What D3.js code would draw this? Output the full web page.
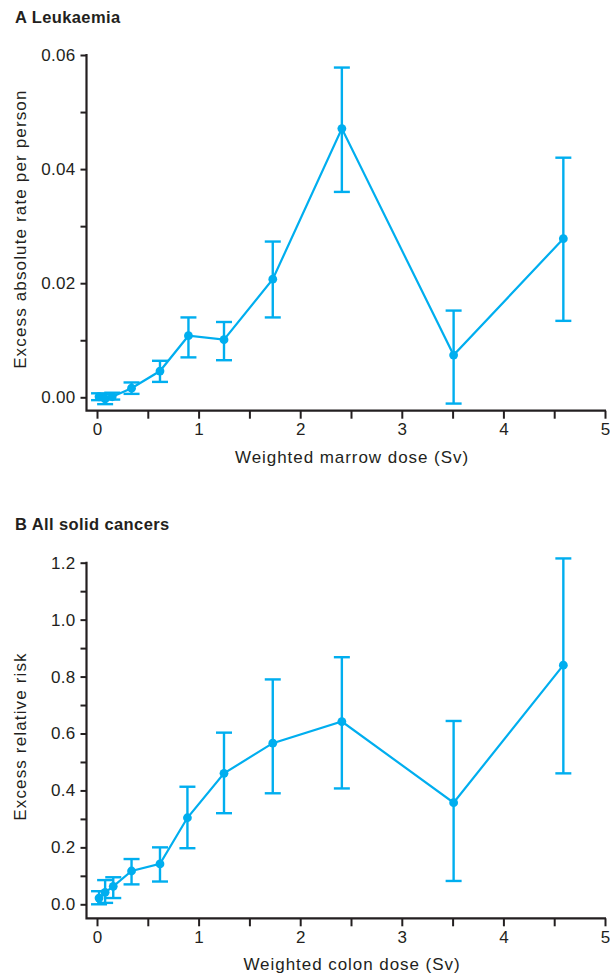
<!DOCTYPE html>
<html><head><meta charset="utf-8">
<script src="https://cdn.jsdelivr.net/npm/d3@7"></script>
<style>body{margin:0;background:#fff}svg{display:block}text{font-family:"Liberation Sans",Arial,Helvetica,sans-serif;fill:#231f20}</style>
</head><body><svg id="c" width="610" height="973"></svg>
<script>
// Panel A: Leukaemia
const doseA = [0.02, 0.08, 0.15, 0.34, 0.62, 0.90, 1.25, 1.73, 2.41, 3.51, 4.59];
const valA  = [0.0001, -0.0003, 0.0001, 0.0016, 0.0046, 0.0108, 0.0101, 0.0207, 0.0471, 0.0074, 0.0278];
const loA   = [-0.0005, -0.0012, -0.0004, 0.0006, 0.0027, 0.0070, 0.0065, 0.0140, 0.0360, -0.0011, 0.0134];
const hiA   = [0.0007, 0.0005, 0.0008, 0.0026, 0.0064, 0.0140, 0.0132, 0.0273, 0.0578, 0.0152, 0.0420];
const yTicksA = [0, 0.01, 0.02, 0.03, 0.04, 0.05, 0.06];
const yLabelsA = ["0.00", "", "0.02", "", "0.04", "", "0.06"];
// Panel B: All solid cancers
const doseB = [0.02, 0.08, 0.16, 0.34, 0.62, 0.89, 1.25, 1.73, 2.41, 3.51, 4.59];
const valB  = [0.022, 0.042, 0.063, 0.117, 0.142, 0.304, 0.460, 0.566, 0.642, 0.357, 0.840];
const loB   = [0.000, 0.005, 0.022, 0.070, 0.080, 0.197, 0.320, 0.390, 0.407, 0.082, 0.460];
const hiB   = [0.046, 0.085, 0.095, 0.159, 0.200, 0.413, 0.603, 0.790, 0.868, 0.644, 1.215];
const yTicksB = [0, 0.1, 0.2, 0.3, 0.4, 0.5, 0.6, 0.7, 0.8, 0.9, 1.0, 1.1, 1.2];
const yLabelsB = ["0.0", "", "0.2", "", "0.4", "", "0.6", "", "0.8", "", "1.0", "", "1.2"];
const xTicks = [0, 0.5, 1, 1.5, 2, 2.5, 3, 3.5, 4, 4.5, 5];
const xLabels = ["0", "", "1", "", "2", "", "3", "", "4", "", "5"];

const svg = d3.select("#c");
const BLUE = "#00aeef", DARK = "#231f20";

function panel(o) {
  const g = svg.append("g");
  const x = d3.scaleLinear().domain([0, 5]).range([97, 605]);
  const y = d3.scaleLinear().domain(o.ydom).range([o.y0, o.ytop]);
  const axisY = o.axisY, axisX = 86.5;
  // title
  g.append("text").attr("x", 15).attr("y", o.titleY).attr("font-size", 16.5).attr("font-weight", "bold")
    .attr("letter-spacing", 0.4).text(o.title);
  // x axis
  const xa = g.append("g").attr("transform", `translate(0,${axisY})`)
    .call(d3.axisBottom(x).tickValues(xTicks).tickSize(8).tickSizeOuter(0).tickPadding(4.5).tickFormat((d, i) => xLabels[i]));
  xa.select(".domain").remove();
  xa.selectAll(".tick line").attr("stroke", DARK).attr("stroke-width", 2);
  xa.selectAll(".tick text").attr("font-size", 17).attr("fill", DARK).attr("font-family", "Liberation Sans, Arial, sans-serif");
  // y axis
  const ya = g.append("g").attr("transform", `translate(${axisX},0)`)
    .call(d3.axisLeft(y).tickValues(o.yTicks).tickSize(6).tickSizeOuter(0).tickPadding(5).tickFormat((d, i) => o.yLabels[i]));
  ya.select(".domain").remove();
  ya.selectAll(".tick line").attr("stroke", DARK).attr("stroke-width", 2);
  ya.selectAll(".tick text").attr("font-size", 17).attr("letter-spacing", 0.3).attr("fill", DARK).attr("font-family", "Liberation Sans, Arial, sans-serif");
  // axis lines
  g.append("path").attr("d", `M${axisX},${y(o.ydom[1]) - 1}V${axisY}H${x(5) + 1}`)
    .attr("fill", "none").attr("stroke", DARK).attr("stroke-width", 2.2);
  // axis titles
  g.append("text").attr("x", (x(0) + x(5)) / 2 + 1).attr("y", o.xTitleY).attr("text-anchor", "middle")
    .attr("font-size", 17).attr("letter-spacing", 0.95).text(o.xTitle);
  g.append("text").attr("transform", `translate(${o.yTitleX},${(y(o.ydom[0]) + y(o.ydom[1])) / 2 + 3}) rotate(-90)`)
    .attr("text-anchor", "middle").attr("font-size", 17).attr("letter-spacing", 1.15).text(o.yTitle);
  // data
  const pts = o.dose.map((d, i) => ({ d, v: o.val[i], lo: o.lo[i], hi: o.hi[i] }));
  g.append("path").datum(pts).attr("d", d3.line().x(p => x(p.d)).y(p => y(p.v)))
    .attr("fill", "none").attr("stroke", BLUE).attr("stroke-width", 2.2);
  const eb = g.selectAll(".eb").data(pts).enter().append("g");
  eb.append("line").attr("x1", p => x(p.d)).attr("x2", p => x(p.d)).attr("y1", p => y(p.lo)).attr("y2", p => y(p.hi))
    .attr("stroke", BLUE).attr("stroke-width", 2.4);
  ["lo", "hi"].forEach(k => eb.append("line").attr("x1", p => x(p.d) - 8).attr("x2", p => x(p.d) + 8)
    .attr("y1", p => y(p[k])).attr("y2", p => y(p[k])).attr("stroke", BLUE).attr("stroke-width", 2.4));
  g.selectAll(".pt").data(pts).enter().append("circle").attr("cx", p => x(p.d)).attr("cy", p => y(p.v)).attr("r", 4.4).attr("fill", BLUE);
}

panel({ title: "A Leukaemia", titleY: 23, ydom: [0, 0.06], y0: 397.3, ytop: 55, axisY: 410.7,
  yTicks: yTicksA, yLabels: yLabelsA, xTitle: "Weighted marrow dose (Sv)", xTitleY: 463, yTitleX: 25.5,
  yTitle: "Excess absolute rate per person", dose: doseA, val: valA, lo: loA, hi: hiA });
panel({ title: "B All solid cancers", titleY: 530, ydom: [0, 1.2], y0: 904.3, ytop: 562.7, axisY: 918.3,
  yTicks: yTicksB, yLabels: yLabelsB, xTitle: "Weighted colon dose (Sv)", xTitleY: 970, yTitleX: 25.5,
  yTitle: "Excess relative risk", dose: doseB, val: valB, lo: loB, hi: hiB });
</script></body></html>
